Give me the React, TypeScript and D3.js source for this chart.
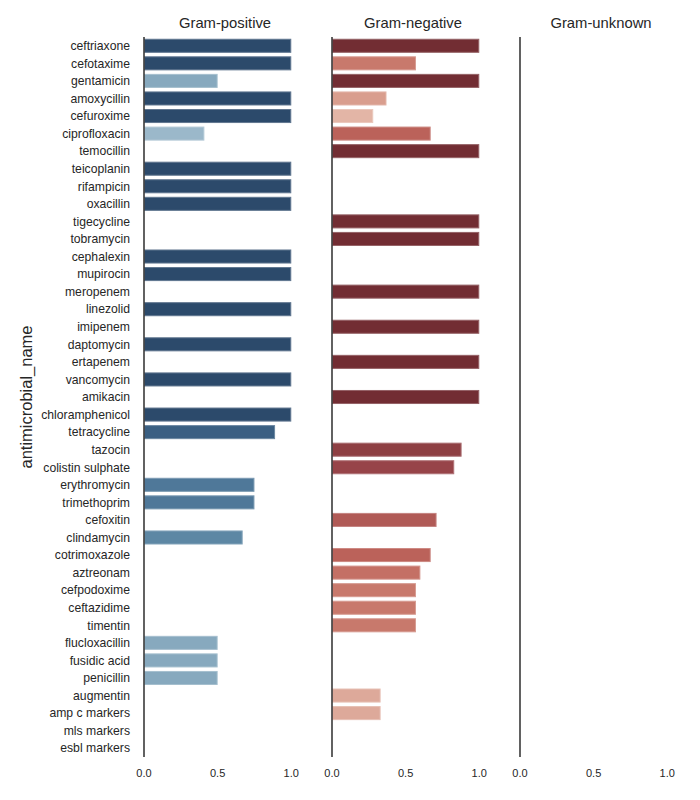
import React from "react";
import * as d3 from "d3";

const categories = [
  "ceftriaxone", "cefotaxime", "gentamicin", "amoxycillin", "cefuroxime", "ciprofloxacin",
  "temocillin", "teicoplanin", "rifampicin", "oxacillin", "tigecycline", "tobramycin",
  "cephalexin", "mupirocin", "meropenem", "linezolid", "imipenem", "daptomycin",
  "ertapenem", "vancomycin", "amikacin", "chloramphenicol", "tetracycline", "tazocin",
  "colistin sulphate", "erythromycin", "trimethoprim", "cefoxitin", "clindamycin",
  "cotrimoxazole", "aztreonam", "cefpodoxime", "ceftazidime", "timentin",
  "flucloxacillin", "fusidic acid", "penicillin", "augmentin", "amp c markers",
  "mls markers", "esbl markers",
];

const panels = ["Gram-positive", "Gram-negative", "Gram-unknown"];

const posValues: (number | null)[] = [
  1, 1, 0.5, 1, 1, 0.41,
  null, 1, 1, 1, null, null,
  1, 1, null, 1, null, 1,
  null, 1, null, 1, 0.89, null,
  null, 0.75, 0.75, null, 0.67,
  null, null, null, null, null,
  0.5, 0.5, 0.5, null, null,
  null, null,
];

const negValues: (number | null)[] = [
  1, 0.57, 1, 0.37, 0.28, 0.67,
  1, null, null, null, 1, 1,
  null, null, 1, null, 1, null,
  1, null, 1, null, null, 0.88,
  0.83, null, null, 0.71, null,
  0.67, 0.6, 0.57, 0.57, 0.57,
  null, null, null, 0.33, 0.33,
  null, null,
];

const unknownValues: (number | null)[] = categories.map(() => null);

const xTicks = [0, 0.5, 1.0];

const posColorDomain = [0.41, 0.5, 0.67, 0.75, 0.89, 1];
const posColorRange = ["#9bb8ca", "#87a9be", "#5d87a4", "#4f7899", "#3a5f82", "#2c4a6b"];
const negColorDomain = [0.28, 0.33, 0.37, 0.57, 0.6, 0.67, 0.71, 0.83, 0.88, 1];
const negColorRange = ["#e3b5a6", "#dda99a", "#d99e8e", "#c8796c", "#c47065", "#bb625a", "#b05a56", "#974449", "#8e3f43", "#722d33"];

const posColor = d3.scaleLinear<string>().domain(posColorDomain).range(posColorRange).clamp(true);
const negColor = d3.scaleLinear<string>().domain(negColorDomain).range(negColorRange).clamp(true);

const panelData = [posValues, negValues, unknownValues];
const panelColors = [posColor, negColor, negColor];

export default function App() {
  const width = 700;
  const height = 800;
  const top = 37;
  const bottom = 757;
  const panelLefts = [144, 332, 520];
  const panelWidth = 162;
  const font = "'Liberation Sans', Arial, sans-serif";
  const textColor = "#262626";

  const yBand = d3.scaleBand<string>().domain(categories).range([top, bottom]);

  return (
    <svg width={width} height={height} style={{ position: "absolute", left: 0, top: 0 }} fontFamily={font}>
      <rect width={width} height={height} fill="#fff" />
      <text
        transform={`translate(32,${(top + bottom) / 2}) rotate(-90)`}
        textAnchor="middle"
        fontSize={16.5}
        fill={textColor}
      >
        antimicrobial_name
      </text>
      {categories.map((c) => (
        <text
          key={c}
          x={130}
          y={(yBand(c) as number) + yBand.bandwidth() / 2}
          dy="0.35em"
          textAnchor="end"
          fontSize={12.2}
          fill={textColor}
        >
          {c}
        </text>
      ))}
      {panels.map((p, pi) => {
        const left = panelLefts[pi];
        const x = d3.scaleLinear().domain([0, 1.1]).range([left, left + panelWidth]);
        const vals = panelData[pi];
        const color = panelColors[pi];
        return (
          <g key={p}>
            <text x={left + panelWidth / 2} y={28} textAnchor="middle" fontSize={14.8} fill={textColor}>
              {p}
            </text>
            {categories.map((c, i) => {
              const v = vals[i];
              if (v == null) return null;
              const fill = color(v);
              const stroke = d3.interpolateRgb(fill, "#ffffff")(0.25);
              const y0 = (yBand(c) as number) + yBand.bandwidth() * 0.1;
              const h = yBand.bandwidth() * 0.8;
              return (
                <rect
                  key={c}
                  x={x(0) + 0.5}
                  y={y0 + 0.5}
                  width={Math.max(0, x(v) - x(0) - 1)}
                  height={h - 1}
                  fill={fill}
                  stroke={stroke}
                  strokeWidth={1}
                />
              );
            })}
            <line x1={left} x2={left} y1={top} y2={bottom} stroke="#3a3a3a" strokeWidth={1.6} />
            {xTicks.map((t) => (
              <text key={t} x={x(t)} y={777} textAnchor="middle" fontSize={11} fill={textColor}>
                {t.toFixed(1)}
              </text>
            ))}
          </g>
        );
      })}
    </svg>
  );
}
